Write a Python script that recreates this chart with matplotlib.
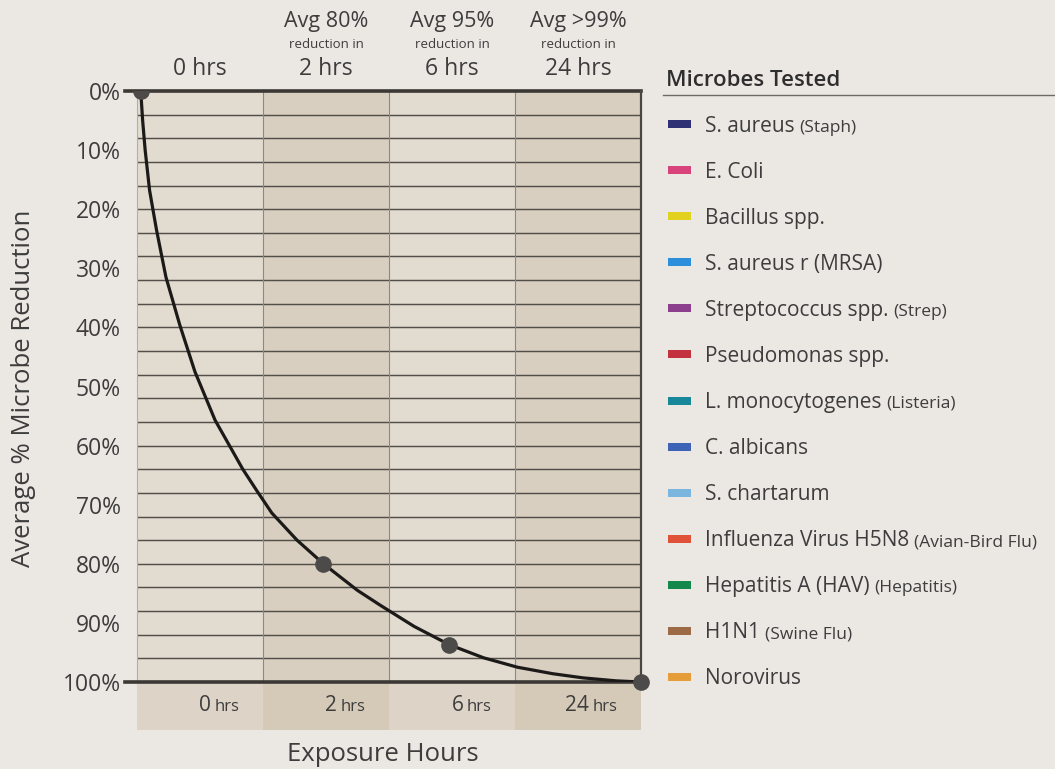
import matplotlib
matplotlib.use("Agg")
import matplotlib.pyplot as plt
from matplotlib.patches import Rectangle
from matplotlib.lines import Line2D

plt.rcParams['font.family'] = ['Open Sans', 'DejaVu Sans']

# values
col_hdr = ['', 'Avg 80%', 'Avg 95%', 'Avg >99%']
col_sub = ['', 'reduction in', 'reduction in', 'reduction in']
col_hrs = ['0 hrs', '2 hrs', '6 hrs', '24 hrs']
bottom_num = ['0', '2', '6', '24']
y_labels = [0, 10, 20, 30, 40, 50, 60, 70, 80, 90, 100]

# curve (x = column units, y = % reduction)
curve_x = [0.03, 0.045, 0.065, 0.10, 0.155, 0.23, 0.34, 0.46, 0.62, 0.84, 0.95, 1.07,
           1.27, 1.48, 1.75, 1.93, 2.2, 2.48, 2.75, 3.02, 3.3, 3.54, 3.8, 4.0]
curve_y = [0, 5, 10, 16.8, 23.5, 31.5, 39.6, 47.5, 55.7, 64, 67.6, 71.4,
           76.0, 80, 84.5, 87.0, 90.6, 93.7, 95.9, 97.5, 98.6, 99.3, 99.8, 100]
mark_x = [0.03, 1.48, 2.48, 4.0]
mark_y = [0, 80, 93.7, 100]

microbes = ['S. aureus', 'E. Coli', 'Bacillus spp.', 'S. aureus r (MRSA)',
            'Streptococcus spp.', 'Pseudomonas spp.', 'L. monocytogenes',
            'C. albicans', 'S. chartarum', 'Influenza Virus H5N8',
            'Hepatitis A (HAV)', 'H1N1', 'Norovirus']
microbe_notes = ['(Staph)', '', '', '', '(Strep)', '', '(Listeria)', '', '',
                 '(Avian-Bird Flu)', '(Hepatitis)', '(Swine Flu)', '']
microbe_colors = ['#2e3275', '#d9437c', '#e3d11f', '#2b8fdc', '#8c3f8c',
                  '#c2313d', '#17879a', '#3c63b6', '#7cb6df', '#df5239',
                  '#14884a', '#9c6a44', '#e59d3a']

W, H = 1055, 769
bg = '#ebe8e3'
txt = '#3d3d3d'
col_fill = ['#e2dbd0', '#d9cfc0', '#e2dbd0', '#d9cfc0']
strip_fill = ['#ddd4c7', '#d5c9b8', '#ddd4c7', '#d5c9b8']


def fx(px):
    return px / W


def fy(py):
    return 1 - py / H


fig = plt.figure(figsize=(W / 100, H / 100), dpi=100, facecolor=bg)
ax = fig.add_axes([fx(125), fy(682), fx(641) - fx(125), fy(91) - fy(682)])
ax.set_facecolor(bg)
ax.set_xlim(-0.095, 4)
ax.set_ylim(100, 0)

# column backgrounds + strip under the axis
for i in range(4):
    ax.add_patch(Rectangle((i, 0), 1, 100, facecolor=col_fill[i], edgecolor='none', zorder=0))
    ax.add_patch(Rectangle((i, -0.082), 1, 0.082, transform=ax.get_xaxis_transform(),
                           facecolor=strip_fill[i], edgecolor='none', clip_on=False, zorder=0))

# horizontal grid every 4%
grid_y = list(range(4, 100, 4))
ax.hlines(grid_y, 0, 4, colors='#524e49', lw=1.05, zorder=1)
ax.vlines([1, 2, 3], 0, 100, colors='#8e8882', lw=0.8, zorder=1)
ax.vlines([0], 0, 100, colors='#b5aea6', lw=0.8, zorder=1)

ax.spines['left'].set_visible(False)
for s in ['top', 'bottom']:
    ax.spines[s].set_linewidth(2.6)
    ax.spines[s].set_color('#3b3835')
ax.spines['right'].set_linewidth(1.6)
ax.spines['right'].set_color('#4a4642')
ax.spines['right'].set_zorder(3)

ax.set_xticks([])
ax.set_yticks(y_labels)
ax.set_yticklabels([f'{v}%' for v in y_labels], fontsize=16.5, color=txt)
ax.tick_params(axis='y', which='major', length=0, pad=3)
ax.set_yticks([20, 40, 60, 80], minor=True)
ax.tick_params(axis='y', which='minor', direction='in', length=8.6, width=1.05, color='#524e49')

fig.text(fx(24), fy(388), 'Average % Microbe Reduction', rotation=90, ha='center', va='center',
         fontsize=18.5, color=txt)

# curve and points
ax.plot(curve_x, curve_y, color='#1c1a19', lw=2.3, zorder=4, solid_capstyle='round',
        solid_joinstyle='round')
ax.plot(mark_x[:1], mark_y[:1], 'o', color='#4d4b49', ms=11, zorder=5, clip_on=True)
ax.plot(mark_x[1:], mark_y[1:], 'o', color='#4d4b49', ms=11, zorder=5, clip_on=False)

# header above columns
xt = ax.get_xaxis_transform()
for i in range(4):
    c = i + 0.5
    ax.text(c, 1.037, col_hrs[i], transform=xt, ha='center', va='center', fontsize=16.5, color=txt)
    if col_hdr[i]:
        ax.text(c, 1.117, col_hdr[i], transform=xt, ha='center', va='center', fontsize=15.5,
                color=txt)
        ax.text(c, 1.078, col_sub[i], transform=xt, ha='center', va='center', fontsize=9.5,
                color=txt)
    # bottom strip labels
    ax.text(c + 0.09, -0.039, bottom_num[i], transform=xt, ha='right', va='center',
            fontsize=15, color=txt)
    ax.text(c + 0.12, -0.042, 'hrs', transform=xt, ha='left', va='center',
            fontsize=12, color=txt)

ax.text(0.5, -0.1235, 'Exposure Hours', transform=ax.transAxes, ha='center', va='center',
        fontsize=18.5, color=txt)

# legend panel
fig.text(fx(666), fy(80), 'Microbes Tested', ha='left', va='center', fontsize=16,
         fontweight='semibold', color='#2e2e2e')
fig.add_artist(Line2D([fx(663), fx(1055)], [fy(95), fy(95)], color='#6e6a66', lw=1.0))

renderer = fig.canvas.get_renderer()
step = (677 - 124) / 12
for k, name in enumerate(microbes):
    yc = 124 + k * step
    fig.add_artist(Rectangle((fx(668), fy(yc + 4)), fx(23), 8 / H,
                             facecolor=microbe_colors[k], edgecolor='none'))
    t = fig.text(fx(705), fy(yc + 7.5), name, ha='left', va='baseline', fontsize=15, color=txt)
    if microbe_notes[k]:
        bb = t.get_window_extent(renderer=renderer)
        fig.text(bb.x1 / W + fx(5), fy(yc + 7.5), microbe_notes[k], ha='left', va='baseline',
                 fontsize=12.5, color=txt)

fig.savefig('out.png', dpi=100, facecolor=bg)
